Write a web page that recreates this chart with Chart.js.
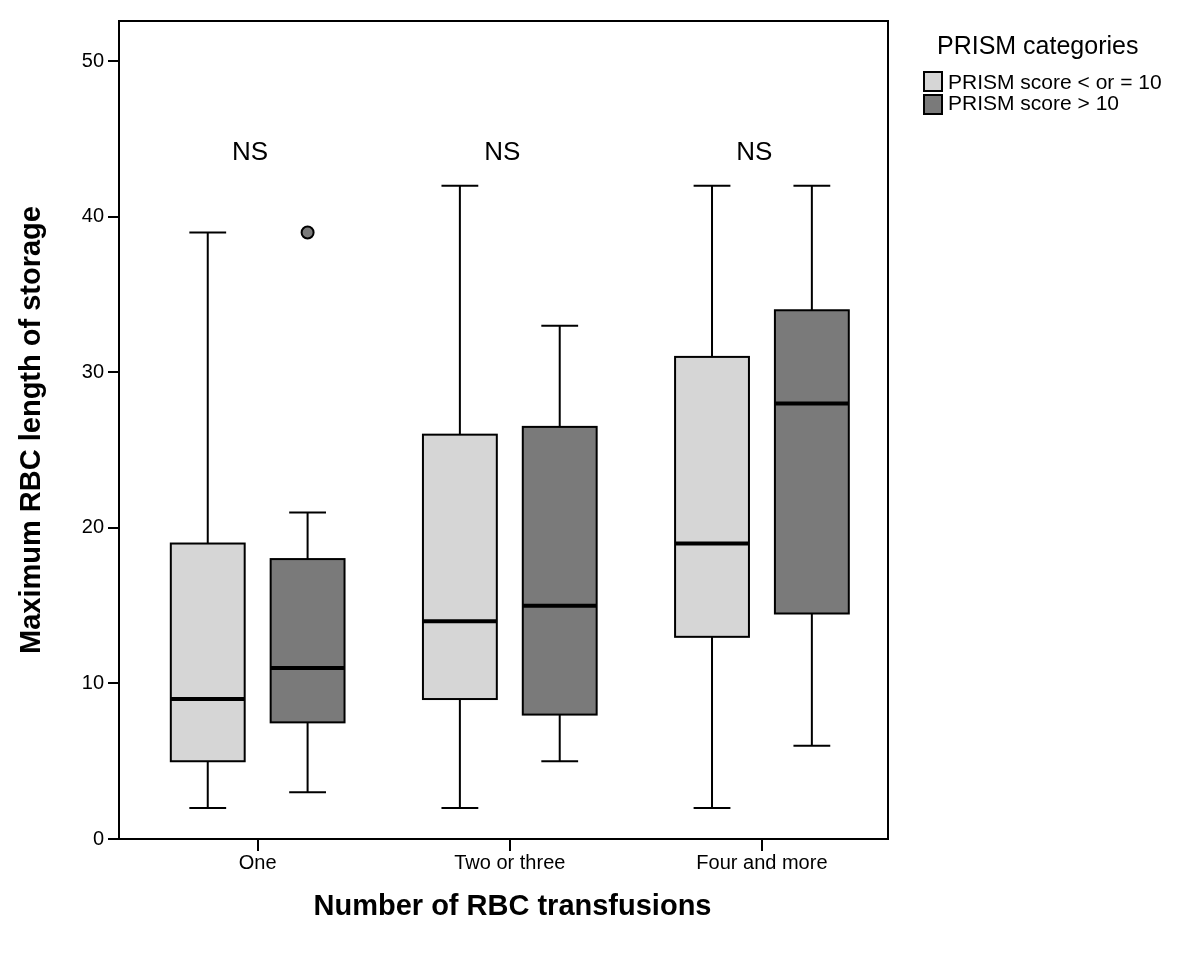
<!DOCTYPE html>
<html>
<head>
<meta charset="utf-8">
<script src="https://cdn.jsdelivr.net/npm/chart.js@4.4.1/dist/chart.umd.min.js"></script>
<style>
  html, body { margin: 0; padding: 0; background: #fff; }
  #wrap { width: 1200px; height: 960px; }
</style>
</head>
<body>
<div id="wrap"><canvas id="boxChart" width="1200" height="960"></canvas></div>
<script>
const categories = ["One", "Two or three", "Four and more"];
const seriesNames = ["PRISM score < or = 10", "PRISM score > 10"];
const seriesColors = ["#d6d6d6", "#7a7a7a"];

// each box: [whisker low, q1, median, q3, whisker high]
const lowPrism = [[2, 5, 9, 19, 39], [2, 9, 14, 26, 42], [2, 13, 19, 31, 42]];
const highPrism = [[3, 7.5, 11, 18, 21], [5, 8, 15, 26.5, 33], [6, 14.5, 28, 34, 42]];
const outlierCats = [0];
const outlierSeries = [1];
const outlierValues = [39];
const yTicks = [0, 10, 20, 30, 40, 50];
const sigLabels = ["NS", "NS", "NS"];
const sigLevel = 44.1;

const FONT = "'Liberation Sans', Arial, Helvetica, sans-serif";
const GROUP_OFFSET = [-0.198, 0.198];
const BOX_HALF = 0.1465;
const CAP_HALF = 0.073;

const allSeries = [lowPrism, highPrism];

const boxPlot = {
  id: "boxPlot",
  beforeDatasetsDraw(chart) {
    const { ctx, scales: { x, y } } = chart;
    const unit = x.getPixelForValue(1) - x.getPixelForValue(0);
    ctx.save();
    allSeries.forEach((series, s) => {
      series.forEach((b, i) => {
        const cx = x.getPixelForValue(i + 1 + GROUP_OFFSET[s]);
        const hw = BOX_HALF * unit;
        const cw = CAP_HALF * unit;
        const [lo, q1, med, q3, hi] = b.map(v => y.getPixelForValue(v));

        // whiskers
        ctx.strokeStyle = "#000";
        ctx.lineWidth = 2;
        ctx.beginPath();
        ctx.moveTo(cx, lo); ctx.lineTo(cx, q1);
        ctx.moveTo(cx, q3); ctx.lineTo(cx, hi);
        ctx.moveTo(cx - cw, lo); ctx.lineTo(cx + cw, lo);
        ctx.moveTo(cx - cw, hi); ctx.lineTo(cx + cw, hi);
        ctx.stroke();

        // box
        ctx.fillStyle = seriesColors[s];
        ctx.fillRect(cx - hw, q3, hw * 2, q1 - q3);
        ctx.strokeRect(cx - hw, q3, hw * 2, q1 - q3);

        // median
        ctx.lineWidth = 4;
        ctx.beginPath();
        ctx.moveTo(cx - hw, med); ctx.lineTo(cx + hw, med);
        ctx.stroke();
      });
    });
    ctx.restore();
  },
  afterDraw(chart) {
    const { ctx, chartArea, scales: { x, y } } = chart;
    ctx.save();
    // frame
    ctx.strokeStyle = "#000";
    ctx.lineWidth = 2;
    ctx.strokeRect(chartArea.left, chartArea.top, chartArea.right - chartArea.left, chartArea.bottom - chartArea.top);

    // significance labels
    ctx.fillStyle = "#000";
    ctx.font = "26px " + FONT;
    ctx.textAlign = "center";
    ctx.textBaseline = "middle";
    sigLabels.forEach((t, i) => {
      ctx.fillText(t, x.getPixelForValue(i + 1 - 0.03), y.getPixelForValue(sigLevel));
    });

    // x axis title, sits a little right of the plot centre
    ctx.font = "bold 29px " + FONT;
    ctx.fillText("Number of RBC transfusions", (chartArea.left + chartArea.right) / 2 + 9, 907);

    // legend
    ctx.textAlign = "left";
    ctx.textBaseline = "alphabetic";
    ctx.font = "25px " + FONT;
    ctx.fillText("PRISM categories", 937, 54);
    ctx.font = "21px " + FONT;
    seriesNames.forEach((name, s) => {
      const top = 72 + s * 23;
      ctx.fillStyle = seriesColors[s];
      ctx.fillRect(924, top, 18, 19);
      ctx.strokeStyle = "#000";
      ctx.lineWidth = 2;
      ctx.strokeRect(924, top, 18, 19);
      ctx.fillStyle = "#000";
      ctx.fillText(name, 948, 89 + s * 21);
    });
    ctx.restore();
  }
};

const outlierPoints = outlierValues.map((v, k) => ({
  x: outlierCats[k] + 1 + GROUP_OFFSET[outlierSeries[k]],
  y: v
}));

new Chart(document.getElementById("boxChart"), {
  type: "scatter",
  data: {
    datasets: [{
      label: "Outliers",
      data: outlierPoints,
      pointRadius: 6,
      pointBackgroundColor: seriesColors[1],
      pointBorderColor: "#000",
      pointBorderWidth: 2
    }]
  },
  options: {
    responsive: false,
    animation: false,
    devicePixelRatio: 1,
    layout: { padding: { top: 21, right: 312, left: 0, bottom: 0 } },
    plugins: {
      legend: { display: false },
      tooltip: { enabled: false }
    },
    scales: {
      x: {
        type: "linear",
        min: 0.45,
        max: 3.5,
        afterBuildTicks: (scale) => {
          scale.ticks = categories.map((c, i) => ({ value: i + 1 }));
        },
        afterFit: (scale) => { scale.height = 121; },
        ticks: {
          color: "#000",
          font: { family: FONT, size: 20 },
          padding: 0,
          callback: (v) => categories[Math.round(v) - 1]
        },
        grid: {
          drawOnChartArea: false,
          drawTicks: true,
          tickLength: 12,
          color: "#000",
          lineWidth: 2
        },
        border: { display: true, color: "#000", width: 2 }
      },
      y: {
        min: 0,
        max: 52.6,
        afterBuildTicks: (scale) => {
          scale.ticks = yTicks.map(v => ({ value: v }));
        },
        afterFit: (scale) => { scale.width = 119; },
        ticks: {
          color: "#000",
          font: { family: FONT, size: 20 },
          padding: 4
        },
        grid: {
          drawOnChartArea: false,
          drawTicks: true,
          tickLength: 11,
          color: "#000",
          lineWidth: 2
        },
        border: { display: true, color: "#000", width: 2 },
        title: {
          display: true,
          text: "Maximum RBC length of storage",
          color: "#000",
          font: { family: FONT, size: 29, weight: "bold" },
          padding: { top: 15, bottom: 0 }
        }
      }
    }
  },
  plugins: [boxPlot]
});
</script>
</body>
</html>
